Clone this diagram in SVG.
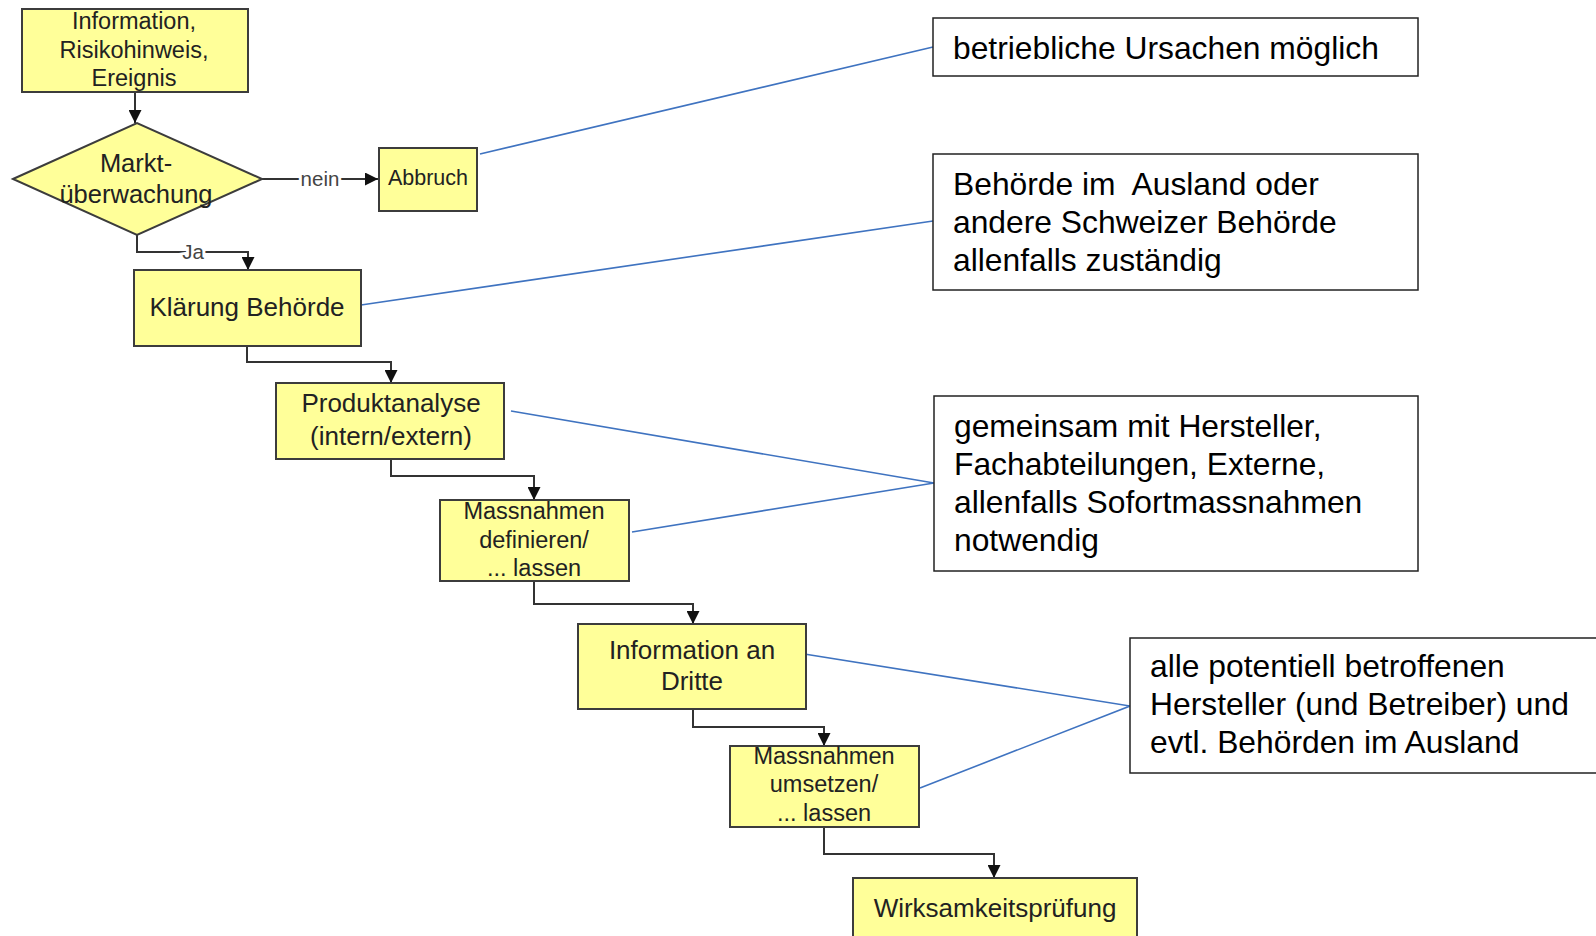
<svg xmlns="http://www.w3.org/2000/svg" width="1596" height="936" viewBox="0 0 1596 936">
<style>
.box{fill:#FFFF99;stroke:#3c3c3c;stroke-width:2}
.note{fill:#fff;stroke:#222;stroke-width:1.5}
.t{font-family:"Liberation Sans",Arial,sans-serif;fill:#222;text-anchor:middle}
.n{font-family:"Liberation Sans",Arial,sans-serif;fill:#000;font-size:31.8px}
.con{fill:none;stroke:#333;stroke-width:2}
.blue{fill:none;stroke:#3F73C0;stroke-width:1.6}
.lbl{font-family:"Liberation Sans",Arial,sans-serif;fill:#444;font-size:20.5px;text-anchor:middle;stroke:#fff;stroke-width:6;paint-order:stroke}
</style>
<defs>
<marker id="ah" markerUnits="userSpaceOnUse" markerWidth="13" markerHeight="13" viewBox="0 0 13 13" refX="13" refY="6.5" orient="auto">
<path d="M0,0 L13,6.5 L0,13 z" fill="#111"/>
</marker>
</defs>
<rect width="1596" height="936" fill="#fff"/>

<g id="connectors">
<path class="con" d="M135,92 V123" marker-end="url(#ah)"/>
<path class="con" d="M262,179 H378" marker-end="url(#ah)"/>
<text class="lbl" x="320" y="186">nein</text>
<path class="con" d="M137,235 V252 H248 V270" marker-end="url(#ah)"/>
<text class="lbl" x="193" y="259">Ja</text>
<path class="con" d="M247,346 V362 H391 V383" marker-end="url(#ah)"/>
<path class="con" d="M391,459 V476 H534 V500" marker-end="url(#ah)"/>
<path class="con" d="M534,581 V604 H693 V624" marker-end="url(#ah)"/>
<path class="con" d="M693,709 V727 H824 V746" marker-end="url(#ah)"/>
<path class="con" d="M824,827 V854 H994 V878" marker-end="url(#ah)"/>
<path class="blue" d="M480,154 L933,47"/>
<path class="blue" d="M361,305 L933,221"/>
<path class="blue" d="M511,411 L934,483 L632,532"/>
<path class="blue" d="M798,653 L1130,706 L920,788"/>
</g>

<g id="n-info">
<rect class="box" x="22" y="9" width="226" height="83"/>
<text class="t" font-size="23.5" x="134" y="29">Information,</text>
<text class="t" font-size="23.5" x="134" y="58">Risikohinweis,</text>
<text class="t" font-size="23.5" x="134" y="86">Ereignis</text>
</g>

<g id="n-markt">
<path class="box" d="M13,179 L137,123 L262,179 L137,235 Z"/>
<text class="t" font-size="25.5" x="136" y="172">Markt-</text>
<text class="t" font-size="25.5" x="136" y="203">überwachung</text>
</g>

<g id="n-abbruch">
<rect class="box" x="379" y="148" width="98" height="63"/>
<text class="t" font-size="21.5" x="428" y="185">Abbruch</text>
</g>

<g id="n-klaerung">
<rect class="box" x="134" y="270" width="227" height="76"/>
<text class="t" font-size="26" x="247" y="316">Klärung Behörde</text>
</g>

<g id="n-produkt">
<rect class="box" x="276" y="383" width="228" height="76"/>
<text class="t" font-size="26" x="391" y="412">Produktanalyse</text>
<text class="t" font-size="26" x="391" y="445">(intern/extern)</text>
</g>

<g id="n-mass1">
<rect class="box" x="440" y="500" width="189" height="81"/>
<text class="t" font-size="23.5" x="534" y="519">Massnahmen</text>
<text class="t" font-size="23.5" x="534" y="548">definieren/</text>
<text class="t" font-size="23.5" x="534" y="576">... lassen</text>
</g>

<g id="n-infodritte">
<rect class="box" x="578" y="624" width="228" height="85"/>
<text class="t" font-size="26" x="692" y="659">Information an</text>
<text class="t" font-size="26" x="692" y="690">Dritte</text>
</g>

<g id="n-mass2">
<rect class="box" x="730" y="746" width="189" height="81"/>
<text class="t" font-size="23.5" x="824" y="764">Massnahmen</text>
<text class="t" font-size="23.5" x="824" y="792">umsetzen/</text>
<text class="t" font-size="23.5" x="824" y="821">... lassen</text>
</g>

<g id="n-wirk">
<rect class="box" x="853" y="878" width="284" height="80"/>
<text class="t" font-size="26" x="995" y="917">Wirksamkeitsprüfung</text>
</g>

<g id="note1">
<rect class="note" x="933" y="18" width="485" height="58"/>
<text class="n" x="953" y="59">betriebliche Ursachen möglich</text>
</g>

<g id="note2">
<rect class="note" x="933" y="154" width="485" height="136"/>
<text class="n" x="953" y="195" xml:space="preserve">Behörde im  Ausland oder</text>
<text class="n" x="953" y="233">andere Schweizer Behörde</text>
<text class="n" x="953" y="271">allenfalls zuständig</text>
</g>

<g id="note3">
<rect class="note" x="934" y="396" width="484" height="175"/>
<text class="n" x="954" y="437">gemeinsam mit Hersteller,</text>
<text class="n" x="954" y="475">Fachabteilungen, Externe,</text>
<text class="n" x="954" y="513">allenfalls Sofortmassnahmen</text>
<text class="n" x="954" y="551">notwendig</text>
</g>

<g id="note4">
<rect class="note" x="1130" y="638" width="500" height="135"/>
<text class="n" x="1150" y="677">alle potentiell betroffenen</text>
<text class="n" x="1150" y="715">Hersteller (und Betreiber) und</text>
<text class="n" x="1150" y="753">evtl. Behörden im Ausland</text>
</g>
</svg>
